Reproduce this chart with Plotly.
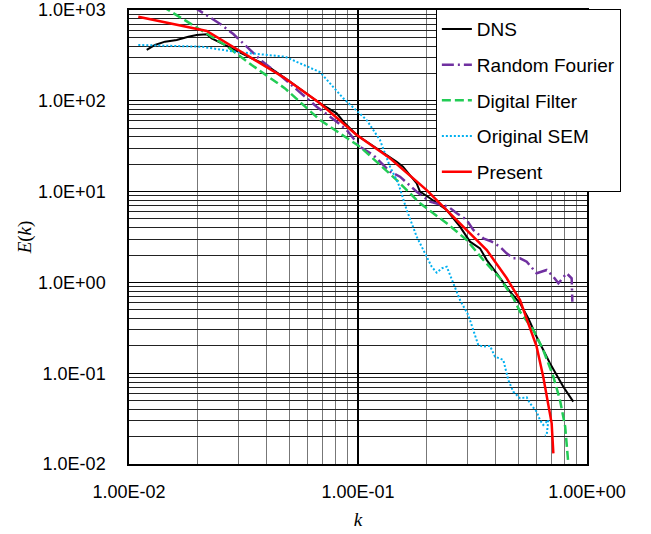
import plotly.graph_objects as go

# ---- data ----
dns_k = [0.01195, 0.01299, 0.01436, 0.01615, 0.01815, 0.01975, 0.02184, 0.02297, 0.0254, 0.029,
         0.03434, 0.03926, 0.048, 0.0682, 0.0807, 0.0877, 0.0987, 0.1476, 0.1572, 0.1804,
         0.1865, 0.2063, 0.244, 0.2789, 0.3083, 0.341, 0.365, 0.4034, 0.461, 0.51,
         0.554, 0.6026, 0.689, 0.788, 0.871]
dns_E = [363, 412, 448, 467, 508, 531, 540, 488, 430, 363,
         294, 252, 178, 94, 72.8, 56.5, 42, 21.3, 18.8, 12.3,
         9.98, 8.44, 6.27, 4.11, 2.81, 2.37, 1.76, 1.26, 0.79, 0.589,
         0.403, 0.252, 0.1285, 0.071, 0.0486]

rf_k = [0.019, 0.02297, 0.0254, 0.02855, 0.0332, 0.038, 0.0456, 0.066, 0.0807, 0.0893,
        0.102, 0.1166, 0.138, 0.1526, 0.1804, 0.2063, 0.248, 0.27, 0.2984, 0.3187,
        0.3525, 0.3835, 0.417, 0.4456, 0.4766, 0.51, 0.5455, 0.6026, 0.6668, 0.713,
        0.75, 0.815, 0.857, 0.857, 0.863]
rf_E = [1096, 796, 684, 544, 379, 274, 192, 86.1, 58.9, 47.7,
        31.2, 25.3, 16.6, 14.6, 9.98, 7.74, 6.82, 5.77, 4.87, 3.78,
        3.06, 2.81, 2.47, 2.09, 1.84, 1.84, 1.69, 1.26, 1.37, 1.156,
        0.977, 1.26, 1.11, 0.79, 0.613]

df_k = [0.0125, 0.02626, 0.03434, 0.048, 0.0682, 0.102, 0.1476, 0.1865, 0.244, 0.2984,
        0.3525, 0.417, 0.4766, 0.51, 0.583, 0.644, 0.713, 0.762, 0.803, 0.829, 0.832]
df_E = [1307, 412, 248, 137, 61.4, 31.2, 13.4, 7.43, 4.48, 2.93,
        1.765, 1.11, 0.673, 0.476, 0.299, 0.18, 0.0915, 0.0507, 0.0258, 0.0102, 0.009]

sem_k = [0.01098, 0.02077, 0.029, 0.0367, 0.048, 0.0682, 0.0863, 0.1091, 0.1247, 0.138,
         0.15, 0.1632, 0.1804, 0.1995, 0.2098, 0.2206, 0.232, 0.244, 0.2608, 0.2789,
         0.3031, 0.3187, 0.335, 0.3525, 0.377, 0.3965, 0.431, 0.4532, 0.4766, 0.51,
         0.5455, 0.5636, 0.6026, 0.6236, 0.644, 0.678, 0.6668, 0.655]
sem_E = [412, 394, 347, 325, 306, 207, 106.5, 61.4, 37, 18.8,
         12.3, 6.27, 3.19, 1.92, 1.49, 1.28, 1.43, 1.49, 0.985, 0.64,
         0.4375, 0.299, 0.2045, 0.196, 0.2, 0.152, 0.14, 0.0841, 0.0626, 0.053,
         0.0543, 0.0466, 0.0377, 0.0305, 0.0269, 0.0305, 0.0209, 0.0205]

pr_k = [0.01098, 0.02184, 0.030, 0.0406, 0.048, 0.0682, 0.0987, 0.138, 0.1995, 0.288,
        0.365, 0.4456, 0.51, 0.554, 0.6026, 0.644, 0.678, 0.701, 0.713]
pr_E = [843, 587, 363, 228, 177, 93.9, 42, 23.3, 10.4, 4.11,
        2.27, 1.118, 0.64, 0.354, 0.196, 0.0915, 0.0428, 0.028, 0.0131]

y_tickvals = [1e-2, 1e-1, 1e0, 1e1, 1e2, 1e3]
y_ticktext = ["1.0E-02", "1.0E-01", "1.0E+00", "1.0E+01", "1.0E+02", "1.0E+03"]
x_tickvals = [1e-2, 1e-1, 1e0]
x_ticktext = ["1.00E-02", "1.00E-01", "1.00E+00"]

series = [
    ("DNS", dns_k, dns_E, "#000000", "solid", 2),
    ("Random Fourier", rf_k, rf_E, "#7030A0", "12px,4px,2px,4px", 2.5),
    ("Digital Filter", df_k, df_E, "#22CC55", "9px,4px", 2.5),
    ("Original SEM", sem_k, sem_E, "#00B0F0", "2px,2px", 2),
    ("Present", pr_k, pr_E, "#FF0000", "solid", 2.5),
]

fig = go.Figure()
for i, (name, kx, ey, col, dash, w) in enumerate(series):
    fig.add_trace(go.Scatter(x=kx, y=ey, mode="lines", name=name, legendgroup=str(i),
                             line=dict(color=col, dash=dash, width=w)))

tick_font = dict(family="Liberation Sans, Arial, sans-serif", size=18, color="#000")
fig.update_layout(
    width=651, height=534,
    margin=dict(l=129, r=64, t=10, b=70, autoexpand=False),
    paper_bgcolor="white", plot_bgcolor="white",
    showlegend=True,
    legend=dict(x=0.67, y=1.002, xanchor="left", yanchor="top",
                bgcolor="white", bordercolor="#000", borderwidth=1,
                font=dict(family="Liberation Sans, Arial, sans-serif", size=19, color="#000"),
                traceorder="grouped", tracegroupgap=8),
    xaxis=dict(type="log", range=[-2, 0], tickvals=x_tickvals, ticktext=x_ticktext,
               tickfont=tick_font, ticks="", ticklabelstandoff=11, automargin=False,
               ticklabeloverflow="allow",
               showgrid=True, gridcolor="#000", gridwidth=1.5,
               minor=dict(showgrid=True, gridcolor="#777", gridwidth=1.2, dtick="D1", ticks=""),
               showline=True, linecolor="#000", linewidth=1.5, mirror=True, zeroline=False,
               title=dict(text="<i>k</i>", font=dict(family="Liberation Serif, Times New Roman, serif", size=19, color="#000"),
                          standoff=11)),
    yaxis=dict(type="log", range=[-2, 3], tickvals=y_tickvals, ticktext=y_ticktext,
               tickfont=tick_font, ticks="", ticklabelstandoff=18, automargin=False,
               ticklabeloverflow="allow",
               showgrid=True, gridcolor="#000", gridwidth=1.2,
               minor=dict(showgrid=True, gridcolor="#222", gridwidth=1, dtick="D1", ticks=""),
               showline=True, linecolor="#000", linewidth=1.5, mirror=True, zeroline=False,
               title=dict(text="<i>E</i>(<i>k</i>)", font=dict(family="Liberation Serif, Times New Roman, serif", size=19, color="#000"),
                          standoff=1)),
)
# remove the default 8px page margin so the figure sits at the window origin
fig.write_html("out.html", config={"displayModeBar": False},
               post_script="document.body.style.margin='0';")
